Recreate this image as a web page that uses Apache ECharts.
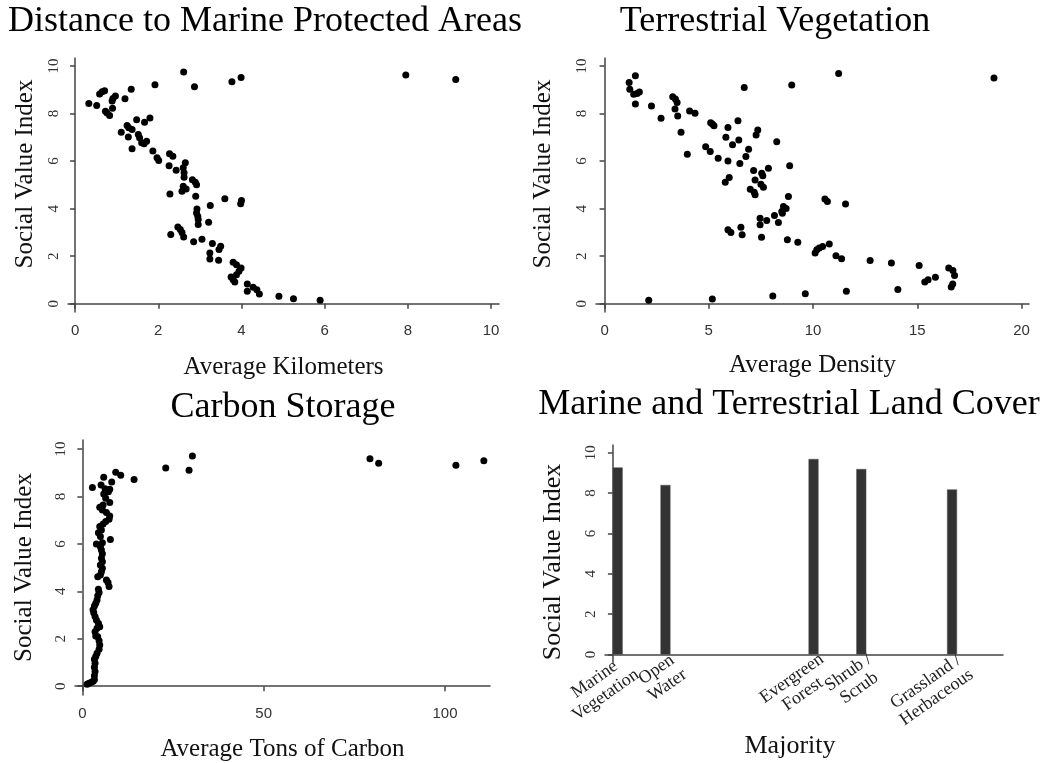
<!DOCTYPE html>
<html lang="en">
<head>
    <meta charset="UTF-8">
    <title>Social Value Index</title>
    <script src="https://cdn.jsdelivr.net/npm/echarts@6.0.0/dist/echarts.min.js"></script>
    <style>
        html, body { margin: 0; padding: 0; background: #fff; }
        #main { width: 1055px; height: 763px; }
    </style>
</head>
<body>
<div id="main"></div>
<script>
// panel 1: distance to marine protected areas
var kmX = [0.33,0.52,0.59,0.65,0.71,0.89,0.91,0.97,0.9,0.73,0.77,0.83,1.2,1.35,1.92,2.61,2.87,3.77,3.99,1.48,1.67,1.8,1.25,1.29,1.37,1.11,1.28,1.52,1.55,1.6,1.66,1.72,1.37,1.87,1.97,2.01,2.27,2.35,2.26,2.43,2.65,2.6,2.62,2.62,2.82,2.89,2.92,2.28,2.57,2.6,2.67,2.9,3.6,4.0,3.98,3.25,2.93,2.92,2.95,2.96,2.96,3.21,2.47,2.53,2.57,2.61,2.3,2.85,3.05,3.3,3.5,3.46,3.24,3.24,3.45,3.8,3.88,3.99,3.94,3.88,3.75,3.8,3.84,4.14,4.28,4.37,4.43,4.14,4.9,5.25,5.89,7.95,9.15];
var kmSvi = [8.43,8.34,8.83,8.92,8.96,8.53,8.64,8.74,8.22,8.1,8.03,7.92,8.62,9.02,9.21,9.75,9.13,9.34,9.52,7.74,7.64,7.82,7.5,7.4,7.33,7.22,7.02,7.12,6.98,6.77,6.73,6.84,6.52,6.43,6.14,6.03,6.31,6.21,5.81,5.62,5.93,5.72,5.51,5.32,5.22,5.11,5.01,4.62,4.73,4.94,4.83,4.52,4.42,4.34,4.21,4.13,3.99,3.82,3.68,3.54,3.33,3.43,3.23,3.12,3.0,2.81,2.91,2.61,2.71,2.53,2.42,2.28,2.13,1.88,1.83,1.74,1.64,1.5,1.36,1.22,1.12,1.01,0.91,0.83,0.69,0.59,0.41,0.52,0.31,0.21,0.14,9.62,9.43];

// panel 2: terrestrial vegetation
var densX = [1.18,1.21,1.48,1.4,1.56,1.67,1.48,2.25,2.71,3.27,3.4,3.48,3.38,3.51,3.67,3.97,4.08,4.34,4.85,5.07,5.09,5.17,5.25,5.45,5.92,5.82,6.14,6.44,6.4,6.7,5.92,6.49,6.78,6.91,7.35,7.27,8.26,8.98,8.88,7.15,7.22,7.54,7.59,7.86,5.79,5.98,6.99,7.18,7.22,7.5,7.62,8.82,8.58,8.71,8.53,8.5,8.15,8.34,7.46,7.46,7.78,5.92,6.06,6.54,6.6,7.53,8.77,9.27,11.23,10.57,10.69,11.56,10.1,10.18,10.3,10.46,10.78,11.1,11.37,12.74,13.76,15.09,14.07,15.36,15.52,15.87,16.51,16.71,16.79,16.63,16.7,18.68,2.12,5.17,8.07,9.63,11.6];
var densSvi = [9.31,9.02,9.59,8.81,8.85,8.91,8.4,8.32,7.8,8.71,8.61,8.47,8.19,7.9,7.21,6.29,8.11,8.01,6.61,6.4,7.62,7.56,7.49,6.12,7.41,7.0,6.69,6.89,7.7,9.1,6.01,5.9,6.19,6.5,7.31,7.1,6.81,9.2,5.81,5.6,5.21,5.49,5.38,5.7,5.11,5.31,4.82,4.69,4.58,5.03,4.9,4.51,4.09,4.01,3.81,3.88,3.71,3.42,3.6,3.32,3.5,3.11,3.0,3.22,2.9,2.8,2.69,2.59,9.69,4.41,4.3,4.2,2.13,2.27,2.34,2.41,2.51,2.02,1.89,1.82,1.71,1.61,0.6,0.91,1.01,1.11,1.5,1.4,1.19,0.7,0.83,9.5,0.14,0.2,0.32,0.42,0.52];

// panel 3: carbon storage
var carbonX = [1.29,1.84,2.48,2.94,3.31,3.31,3.49,3.31,3.49,3.31,3.68,4.04,4.6,4.78,4.6,4.23,3.68,3.49,4.04,4.78,4.41,3.86,3.49,3.13,2.94,3.31,3.68,4.04,4.23,4.6,4.41,7.35,7.07,6.62,4.23,4.96,5.24,5.51,4.96,5.51,5.24,5.51,5.24,4.96,3.86,5.51,7.72,4.96,4.41,5.24,4.78,5.7,6.43,7.35,7.54,6.62,5.51,4.78,5.7,7.54,6.43,5.88,7.17,6.25,7.54,5.15,2.76,8.09,5.88,9.19,10.57,14.25,22.98,29.41,30.33,79.3,81.7,103.0,110.7];
var carbonSvi = [0.08,0.13,0.17,0.21,0.27,0.44,0.62,0.8,0.97,1.14,1.25,1.39,1.56,1.74,1.92,2.09,2.12,2.3,2.44,2.51,2.65,2.79,2.94,3.1,3.22,3.38,3.5,3.64,3.81,3.95,4.09,4.2,4.37,4.48,4.62,4.69,4.83,4.97,5.11,5.25,5.39,5.58,5.74,5.88,6.0,6.05,6.19,6.31,6.47,6.59,6.73,6.84,6.94,7.04,7.18,7.32,7.43,7.54,7.64,7.74,7.92,8.1,8.2,8.33,8.3,8.48,8.38,8.61,8.81,9.02,8.89,8.71,9.2,9.1,9.71,9.59,9.4,9.32,9.51];

// panel 4: land cover majority (land cover class codes)
var coverCodes = [1, 11, 42, 52, 71];
var coverNames = ['Marine\nVegetation', 'Open\nWater', 'Evergreen\nForest', 'Shrub /\nScrub', 'Grassland /\nHerbaceous'];
var coverSvi = [9.27, 8.4, 9.69, 9.19, 8.18];

var yTicks = [0, 2, 4, 6, 8, 10];
var serif = 'Liberation Serif';

function zip(a, b) {
    return a.map(function (v, i) { return [v, b[i]]; });
}

function xAxisFor(idx, min, max, ticks, name, gap) {
    return {
        gridIndex: idx, type: 'value', position: 'bottom', min: min, max: max,
        name: name, nameLocation: 'middle', nameGap: gap,
        nameTextStyle: { fontFamily: serif, fontSize: 25, color: '#111' },
        axisLine: { lineStyle: { color: '#444', width: 1.5 } },
        axisTick: { customValues: ticks, length: 5, lineStyle: { color: '#444', width: 1.5 } },
        axisLabel: { customValues: ticks, margin: 11, fontFamily: 'Liberation Sans', fontSize: 15, color: '#333' },
        splitLine: { show: false }
    };
}

function yAxisFor(idx, min, max, gap, size, pad) {
    return {
        gridIndex: idx, type: 'value', min: min, max: max,
        name: 'Social Value Index', nameLocation: 'middle', nameGap: gap,
        nameTextStyle: { fontFamily: serif, fontSize: size, color: '#111', padding: pad },
        axisLine: { show: true, lineStyle: { color: '#444', width: 1.5 } },
        axisTick: { show: true, customValues: yTicks, length: 5, lineStyle: { color: '#444', width: 1.5 } },
        axisLabel: { customValues: yTicks, rotate: 90, margin: 6, fontFamily: serif, fontSize: 15, color: '#333' },
        splitLine: { show: false }
    };
}

// the land cover labels overlap each other, so they are split over two axes
// on the same grid to keep echarts from hiding any of them
function coverAxis(codes, withLine) {
    return {
        gridIndex: 3, type: 'value', position: 'bottom', offset: 0, min: -1.66, max: 81.67,
        name: withLine ? 'Majority' : '', nameLocation: 'middle', nameGap: 70,
        nameTextStyle: { fontFamily: serif, fontSize: 26, color: '#111', padding: [0, 28, 0, 0] },
        axisLine: { show: withLine, lineStyle: { color: '#444', width: 1.5 } },
        axisTick: { show: false },
        axisLabel: {
            customValues: codes, rotate: 35, margin: 12,
            showMinLabel: true, showMaxLabel: true, hideOverlap: false,
            fontFamily: serif, fontSize: 18, color: '#222', lineHeight: 19,
            padding: [0, -17, 0, 0],
            formatter: function (v) {
                var name = coverNames[coverCodes.indexOf(v)] || '';
                return name.split('\n').map(function (s) { return '{c|' + s + '}'; }).join('\n');
            },
            rich: { c: { align: 'center', fontFamily: serif, fontSize: 18, color: '#222', lineHeight: 19 } }
        },
        splitLine: { show: false }
    };
}

var titleStyle = { fontFamily: serif, fontSize: 36, fontWeight: 'normal', color: '#000' };

var chart = echarts.init(document.getElementById('main'));
var option = {
    backgroundColor: '#fff',
    animation: false,
    title: [
        { text: 'Distance to Marine Protected Areas', left: 265, top: 4, textAlign: 'center', padding: 0, textStyle: titleStyle },
        { text: 'Terrestrial Vegetation', left: 775, top: 4, textAlign: 'center', padding: 0, textStyle: titleStyle },
        { text: 'Carbon Storage', left: 283, top: 390, textAlign: 'center', padding: 0, textStyle: titleStyle },
        { text: 'Marine and Terrestrial Land Cover', left: 789, top: 387, textAlign: 'center', padding: 0, textStyle: titleStyle }
    ],
    grid: [
        { left: 68, top: 58, width: 431, height: 254 },
        { left: 596, top: 58, width: 433, height: 254 },
        { left: 75, top: 440, width: 415, height: 255 },
        { left: 605, top: 445, width: 398, height: 218 }
    ],
    xAxis: [
        xAxisFor(0, -0.17, 10.19, [0, 2, 4, 6, 8, 10], 'Average Kilometers', 43),
        xAxisFor(1, -0.41, 20.36, [0, 5, 10, 15, 20], 'Average Density', 41),
        xAxisFor(2, -2.04, 112.4, [0, 50, 100], 'Average Tons of Carbon', 42),
        coverAxis(coverCodes.filter(function (c, i) { return i % 2 === 0; }), true),
        coverAxis(coverCodes.filter(function (c, i) { return i % 2 === 1; }), false)
    ],
    yAxis: [
        yAxisFor(0, -0.35, 10.34, 30, 25, [0, 0, 0, 22]),
        yAxisFor(1, -0.35, 10.34, 40, 25, [0, 0, 0, 22]),
        yAxisFor(2, -0.37, 10.38, 38, 25, 0),
        yAxisFor(3, -0.42, 10.38, 39, 26, [0, 16, 0, 0])
    ],
    series: [
        { type: 'scatter', xAxisIndex: 0, yAxisIndex: 0, data: zip(kmX, kmSvi), symbolSize: 7, itemStyle: { color: '#000', opacity: 1 } },
        { type: 'scatter', xAxisIndex: 1, yAxisIndex: 1, data: zip(densX, densSvi), symbolSize: 7, itemStyle: { color: '#000', opacity: 1 } },
        { type: 'scatter', xAxisIndex: 2, yAxisIndex: 2, data: zip(carbonX, carbonSvi), symbolSize: 7, itemStyle: { color: '#000', opacity: 1 } },
        { type: 'bar', xAxisIndex: 3, yAxisIndex: 3, data: zip(coverCodes, coverSvi), barWidth: 10,
          itemStyle: { color: '#333', borderColor: '#555', borderWidth: 0.5 } }
    ]
};
chart.setOption(option);
</script>
</body>
</html>
